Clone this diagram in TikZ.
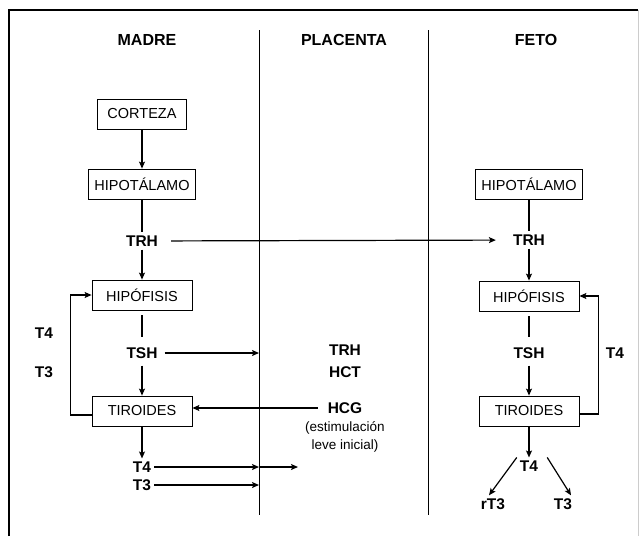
\documentclass[tikz,border=0pt]{standalone}
\usepackage{fontspec}
\setmainfont{Liberation Sans}
\usetikzlibrary{arrows.meta,positioning}

\begin{document}
\begin{tikzpicture}[x=1pt,y=1pt,>={Stealth[length=7pt,width=6pt,inset=1.5pt]},
 node distance=58pt and 36pt,on grid,
 box/.style={draw,line width=0.8pt,minimum width=100pt,minimum height=30pt,inner xsep=6pt,font=\fontsize{14.5}{17}\selectfont},
 lbl/.style={font=\fontsize{15.5}{18}\selectfont\bfseries,inner sep=3pt},
 head/.style={font=\fontsize{16}{19}\selectfont\bfseries},
 note/.style={font=\fontsize{13.5}{18}\selectfont,align=center,inner sep=1pt},
 arr/.style={->,line width=1.2pt},
 stem/.style={line width=1.2pt}]
\useasboundingbox (0,0) rectangle (640,-536);
% frame and columns
\draw[line width=1.8pt] (9,-536) -- (9,-10) -- (638,-10);
\draw[gray!40,line width=0.8pt] (638,-10) -- (638,-536);
\coordinate (div1) at (259,-30); \coordinate (div1end) at (259,-515);
\coordinate (div2) at (428,-30); \coordinate (div2end) at (428,-515);
\draw[line width=1pt] (div1) -- (div1end);
\draw[line width=1pt] (div2) -- (div2end);
\node[head] (madre) at (147,-40) {MADRE};
\node[head] (placenta) at (344,-40) {PLACENTA};
\node[head] (feto) at (536,-40) {FETO};
% madre
\node[box,minimum width=89pt] (cortM) at (142,-114) {CORTEZA};
\node[box,below=70pt of cortM] (hipotM) {HIPOTÁLAMO};
\node[lbl,below=57pt of hipotM] (trhM) {TRH};
\node[box,below=54pt of trhM] (hipfM) {HIPÓFISIS};
\node[lbl,below=of hipfM] (tshM) {TSH};
\node[box,below=of tshM] (tirM) {TIROIDES};
\node[lbl,below=56pt of tirM] (t4M) {T4};
\node[lbl,below=18pt of t4M] (t3M) {T3};
\node[lbl] (fbT4M) at (44,-333) {T4};
\node[lbl] (fbT3M) at (44,-372) {T3};
% placenta
\node[lbl] (trhP) at (345,-350) {TRH};
\node[lbl,below=22pt of trhP] (hctP) {HCT};
\node[lbl] (hcgP) at (345,-408) {HCG};
\node[note,below=29pt of hcgP] (estP) {(estimulación\\leve inicial)};
% feto
\node[box] (hipotF) at (529,-184) {HIPOTÁLAMO};
\node[lbl,below=56pt of hipotF] (trhF) {TRH};
\node[box,below=56pt of trhF] (hipfF) {HIPÓFISIS};
\node[lbl,below=57pt of hipfF] (tshF) {TSH};
\node[box,below=of tshF] (tirF) {TIROIDES};
\node[lbl,below=55pt of tirF] (t4F) {T4};
\node[lbl,below left=38pt and 36pt of t4F] (rt3F) {rT3};
\node[lbl,below right=38pt and 34pt of t4F] (t3F) {T3};
\node[lbl] (fbT4F) at (615,-353) {T4};
% eje madre
\draw[arr] (cortM) -- (hipotM);
\draw[stem] (hipotM) -- (trhM);
\draw[arr] (trhM) -- (hipfM);
\draw[stem,shorten <=5pt,shorten >=7pt] (hipfM) -- (tshM);
\draw[arr,shorten <=4pt] (tshM) -- (tirM);
\draw[arr] (tirM) -- (t4M);
\draw[arr] ([yshift=-4pt]tirM.west) -| ([xshift=-21pt]hipfM.west) -- (hipfM.west);
% paso por la placenta
\draw[arr,shorten <=10pt,shorten >=14pt] (trhM) -- (trhF);
\draw[arr,shorten <=4pt] (tshM.east) -- (tshM.east -| div1);
\draw[arr,shorten <=7pt] (hcgP.west) -- (hcgP.west -| tirM.east);
\draw[arr] (t4M.east) -- (t4M.east -| div1);
\draw[arr] (t4M.east -| div1) -- ++(39pt,0);
\draw[arr] (t3M.east) -- (t3M.east -| div1);
% eje feto
\draw[stem] (hipotF) -- (trhF);
\draw[arr] (trhF) -- (hipfF);
\draw[stem,shorten <=5pt,shorten >=7pt] (hipfF) -- (tshF);
\draw[arr,shorten <=4pt] (tshF) -- (tirF);
\draw[arr] (tirF) -- (t4F);
\draw[arr] ([yshift=-3pt]tirF.east) -| ([xshift=19pt]hipfF.east) -- (hipfF.east);
\draw[arr] (t4F.north west) -- ([xshift=-4pt]rt3F.north);
\draw[arr] ([xshift=6pt]t4F.north east) -- ([xshift=8pt]t3F.north);
\end{tikzpicture}
\end{document}
